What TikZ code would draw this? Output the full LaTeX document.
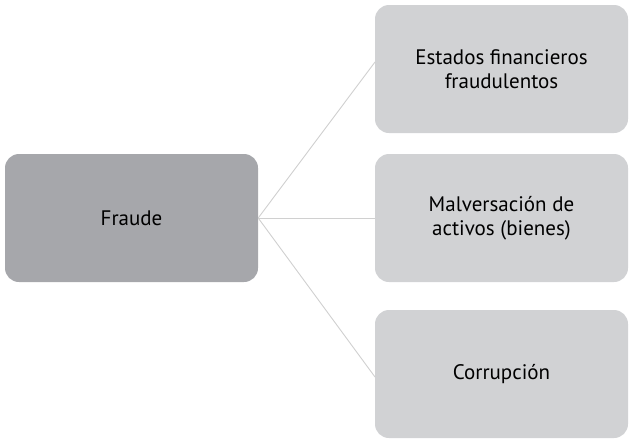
\documentclass[tikz,border=0pt]{standalone}
\usepackage{fontspec}
\setmainfont{PT Sans}
\begin{document}
\begin{tikzpicture}[x=1pt,y=-1pt,
  box/.style={rounded corners=14pt, minimum width=253pt, minimum height=128pt, inner sep=0pt, align=center, font=\fontsize{21}{24}\selectfont, text=black},
  dark/.style={box, fill=boxdark},
  light/.style={box, fill=boxlight},
  link/.style={draw=linegray, line width=0.9pt}]
\definecolor{boxdark}{HTML}{A6A7AB}
\definecolor{boxlight}{HTML}{D1D2D4}
\definecolor{linegray}{HTML}{D0D0D0}
\useasboundingbox (0,0) rectangle (631,440);
\node[dark] (f) at (131.5,218) {Fraude};
\node[light] (a) at (501.5,69) {Estados financieros\\fraudulentos};
\node[light] (b) at (501.5,218) {Malversación de\\activos (bienes)};
\node[light] (c) at (501.5,374) {Corrupción};
\coordinate (s) at (f.east);
\coordinate (ae) at (375,62);
\coordinate (ce) at (375,377);
\draw[link] (s) -- (ae);
\draw[link] (s) -- (b.west);
\draw[link] (s) -- (ce);
\end{tikzpicture}
\end{document}
